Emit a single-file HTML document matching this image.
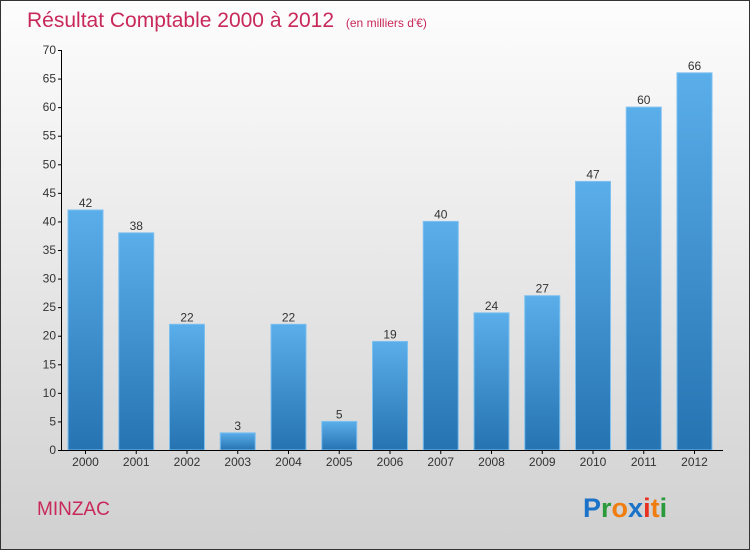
<!DOCTYPE html>
<html><head><meta charset="utf-8"><style>
body{margin:0}
#c{position:relative;width:748px;height:548px;border:1px solid #333;background:linear-gradient(#fdfdfd,#f0f0f0 30%,#d0d0d0);font-family:"Liberation Sans",sans-serif;overflow:hidden}
</style></head><body>
<div id="c">
<svg id="s" width="748" height="548" style="position:absolute;left:0;top:0">
<text x="26" y="26" font-size="21" fill="#c8285a">Résultat Comptable 2000 à 2012 <tspan font-size="12" dx="6">(en milliers d'€)</tspan></text>
<text x="36" y="514" font-size="19" fill="#c8285a">MINZAC</text>
<text x="582" y="516" font-size="27" font-weight="bold"><tspan fill="#1a73c8">P</tspan><tspan fill="#2a9a3a">r</tspan><tspan fill="#f07d10">o</tspan><tspan fill="#1a73c8">x</tspan><tspan fill="#e83020">i</tspan><tspan fill="#f07d10">t</tspan><tspan fill="#2a9a3a">i</tspan></text>
<defs><linearGradient id="g" x1="0" y1="0" x2="0" y2="1"><stop offset="0" stop-color="#5aaeea"/><stop offset="1" stop-color="#2673b2"/></linearGradient></defs>
<g id="bars"></g><g id="ax"></g>
</svg></div>
<script>
const years=["2000","2001","2002","2003","2004","2005","2006","2007","2008","2009","2010","2011","2012"];
const values=[42,38,22,3,22,5,19,40,24,27,47,60,66];
const yTicks=[0,5,10,15,20,25,30,35,40,45,50,55,60,65,70];
const NS="http://www.w3.org/2000/svg";
const y0=449,ppu=400/70,x0=67,step=50.75,bw=35;
const yS=v=>y0-v*ppu, xS=i=>x0+i*step;
const bars=document.getElementById('bars'),ax=document.getElementById('ax');
function mk(t,a,p){const e=document.createElementNS(NS,t);for(const k in a)e.setAttribute(k,a[k]);p.appendChild(e);return e;}
values.forEach((v,i)=>{
 const r=mk('rect',{x:xS(i),y:yS(v),width:bw,height:v*ppu,fill:'url(#g)',stroke:'#7cc0f0','stroke-width':1},bars);
 
 
 const t=mk('text',{x:xS(i)+bw/2,y:yS(v)-3,'font-size':12,'text-anchor':'middle',fill:'#333'},bars);
 t.textContent=v;
 
 
 const l=mk('text',{x:xS(i)+bw/2,y:y0+16,'font-size':12,'text-anchor':'middle',fill:'#333'},ax);
 l.textContent=years[i];
 
 
 mk('line',{x1:xS(i)+bw/2,x2:xS(i)+bw/2,y1:y0,y2:y0+4,stroke:'#000'},ax);
});
const ya=mk('line',{x1:60.5,x2:60.5,y1:yS(70),y2:y0,stroke:'#000'},ax);


const xa=mk('line',{x1:60,x2:722,y1:y0+0.5,y2:y0+0.5,stroke:'#000'},ax);


yTicks.forEach(v=>{
 mk('line',{x1:57,x2:61,y1:yS(v)+0.5,y2:yS(v)+0.5,stroke:'#000'},ax);
 const t=mk('text',{x:55,y:yS(v)+4,'font-size':12,'text-anchor':'end',fill:'#333'},ax);
 t.textContent=v;
 
 
});
</script>
</body></html>
